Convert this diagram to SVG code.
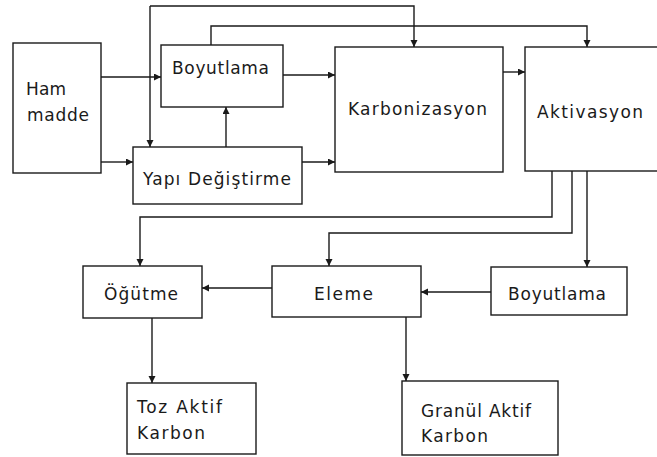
<svg xmlns="http://www.w3.org/2000/svg" width="657" height="457" viewBox="0 0 657 457">
<style>
.box{fill:#fff;stroke:#1a1a1a;stroke-width:1.4}
.t{font-family:"DejaVu Sans","Liberation Sans",Arial,sans-serif;font-size:17px;fill:#1a1a1a}
.c{fill:none;stroke:#1a1a1a;stroke-width:1.4}
</style>
<defs>
<marker id="ah" markerUnits="userSpaceOnUse" markerWidth="8" markerHeight="8" refX="7" refY="3.5" orient="auto">
<path d="M0,0 L7,3.5 L0,7 z" fill="#1a1a1a"/>
</marker>
</defs>
<rect width="657" height="457" fill="#fff"/>
<g id="connectors">
<path class="c" d="M101,77 H161" marker-end="url(#ah)"/>
<path class="c" d="M101,162 H133" marker-end="url(#ah)"/>
<path class="c" d="M150,6 H414 V47" marker-end="url(#ah)"/>
<path class="c" d="M150,6 V147" marker-end="url(#ah)"/>
<path class="c" d="M211,45 V26 H587 V47" marker-end="url(#ah)"/>
<path class="c" d="M226,147 V107" marker-end="url(#ah)"/>
<path class="c" d="M283,75 H335" marker-end="url(#ah)"/>
<path class="c" d="M302,162 H335" marker-end="url(#ah)"/>
<path class="c" d="M503,72 H525" marker-end="url(#ah)"/>
<path class="c" d="M552,171 V217 H140 V266" marker-end="url(#ah)"/>
<path class="c" d="M572,171 V233 H329 V266" marker-end="url(#ah)"/>
<path class="c" d="M587,171 V267" marker-end="url(#ah)"/>
<path class="c" d="M491,292 H421" marker-end="url(#ah)"/>
<path class="c" d="M272,288 H202" marker-end="url(#ah)"/>
<path class="c" d="M152,318 V383" marker-end="url(#ah)"/>
<path class="c" d="M406,317 V381" marker-end="url(#ah)"/>
</g>
<g id="ham-madde">
<rect class="box" x="13" y="43" width="88" height="130"/>
<text class="t" x="26" y="95" textLength="40" lengthAdjust="spacing">Ham</text>
<text class="t" x="27" y="121" textLength="62" lengthAdjust="spacing">madde</text>
</g>
<g id="boyutlama-1">
<rect class="box" x="161" y="45" width="122" height="62"/>
<text class="t" x="172" y="74" textLength="97" lengthAdjust="spacing">Boyutlama</text>
</g>
<g id="yapi-degistirme">
<rect class="box" x="133" y="147" width="169" height="57"/>
<text class="t" x="143" y="185" textLength="148" lengthAdjust="spacing">Yapı Değiştirme</text>
</g>
<g id="karbonizasyon">
<rect class="box" x="335" y="47" width="168" height="125"/>
<text class="t" x="348" y="115" textLength="139" lengthAdjust="spacing">Karbonizasyon</text>
</g>
<g id="aktivasyon">
<rect class="box" x="525" y="47" width="140" height="124"/>
<text class="t" x="537" y="118" textLength="106" lengthAdjust="spacing">Aktivasyon</text>
</g>
<g id="ogutme">
<rect class="box" x="83" y="266" width="119" height="52"/>
<text class="t" x="104" y="300" textLength="74" lengthAdjust="spacing">Öğütme</text>
</g>
<g id="eleme">
<rect class="box" x="272" y="266" width="149" height="51"/>
<text class="t" x="314" y="300" textLength="59" lengthAdjust="spacing">Eleme</text>
</g>
<g id="boyutlama-2">
<rect class="box" x="491" y="267" width="136" height="48"/>
<text class="t" x="508" y="300" textLength="98" lengthAdjust="spacing">Boyutlama</text>
</g>
<g id="toz-aktif-karbon">
<rect class="box" x="127" y="383" width="129" height="71"/>
<text class="t" x="137" y="413" textLength="85" lengthAdjust="spacing">Toz Aktif</text>
<text class="t" x="137" y="439" textLength="68" lengthAdjust="spacing">Karbon</text>
</g>
<g id="granul-aktif-karbon">
<rect class="box" x="402" y="381" width="156" height="74"/>
<text class="t" x="421" y="417" textLength="110" lengthAdjust="spacing">Granül Aktif</text>
<text class="t" x="421" y="442" textLength="67" lengthAdjust="spacing">Karbon</text>
</g>
</svg>
